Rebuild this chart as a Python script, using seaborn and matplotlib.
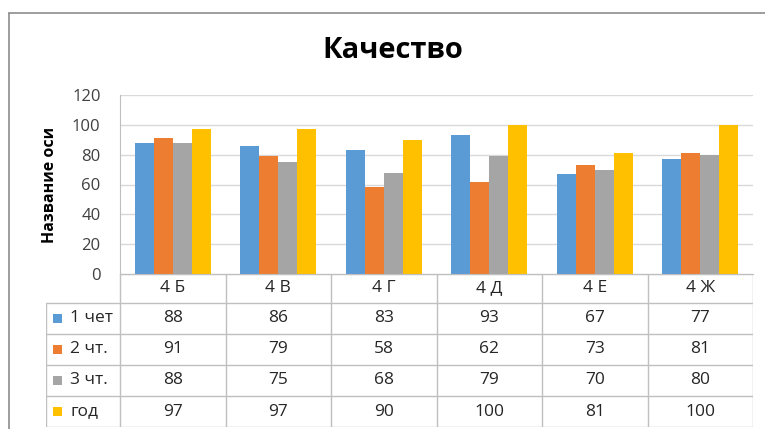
import matplotlib
matplotlib.use("Agg")
import matplotlib.pyplot as plt
import seaborn as sns
import pandas as pd

classes = ["4 Б", "4 В", "4 Г", "4 Д", "4 Е", "4 Ж"]
series = ["1 чет", "2 чт.", "3 чт.", "год"]
q1 = [88, 86, 83, 93, 67, 77]
q2 = [91, 79, 58, 62, 73, 81]
q3 = [88, 75, 68, 79, 70, 80]
year = [97, 97, 90, 100, 81, 100]
colors = ["#5B9BD5", "#ED7D31", "#A5A5A5", "#FFC000"]

values = [q1, q2, q3, year]
df = pd.DataFrame({
    "class": [c for _ in series for c in classes],
    "series": [s for s in series for _ in classes],
    "value": [v for vals in values for v in vals],
})

sns.set_style("white")
plt.rcParams["font.family"] = ["Open Sans", "DejaVu Sans"]

W, H = 765, 429
fig = plt.figure(figsize=(W / 100, H / 100), dpi=100)

def px_axes(x0, y0, x1, y1):
    return fig.add_axes([x0 / W, 1 - y1 / H, (x1 - x0) / W, (y1 - y0) / H])

# outer chart border
frame = fig.add_axes([0, 0, 1, 1], zorder=-5)
frame.set_xlim(0, W)
frame.set_ylim(H, 0)
frame.axis("off")
frame.plot([9, W], [13, 13], color="#8C8C8C", lw=1.2)
frame.plot([9, 9], [13, H], color="#8C8C8C", lw=1.2)

fig.text(393 / W, 1 - 50 / H, "Качество", ha="center", va="center",
         fontsize=21, fontweight="bold", color="black")

# bar chart
pl, pr, pt, pb = 120, 753, 95, 274
ax = px_axes(pl, pt, pr, pb)
sns.barplot(data=df, x="class", y="value", hue="series", order=classes,
            hue_order=series, palette=colors, width=0.72, saturation=1,
            linewidth=0, edgecolor="none", legend=False, ax=ax)
ax.set_ylim(0, 120)
ax.set_xlim(-0.5, len(classes) - 0.5)
ax.set_yticks(range(0, 121, 20))
ax.yaxis.grid(True, color="#D9D9D9", lw=1)
ax.set_axisbelow(True)
ax.tick_params(axis="y", length=0, pad=14, labelsize=12, colors="#404040")
ax.set_xticks([])
ax.set_xlabel("")
ax.set_ylabel("Название оси", fontsize=11.5, fontweight="bold", labelpad=10,
              color="black")
for s in ["top", "right"]:
    ax.spines[s].set_visible(False)
ax.spines["left"].set_color("#BFBFBF")
ax.spines["bottom"].set_color("#BFBFBF")

# data table
tl, tt, tb = 46, 274, 427
tab = px_axes(tl, tt, pr, tb)
tab.set_xlim(tl, pr)
tab.set_ylim(tb, tt)
tab.axis("off")
lc = "#BFBFBF"
cw = (pr - pl) / len(classes)
hdr = 303
rh = (tb - hdr) / len(series)
edges = [pl + i * cw for i in range(len(classes) + 1)]
tab.plot([pl, pr], [tt + 0.5, tt + 0.5], color=lc, lw=1)
tab.plot([tl, pr], [hdr, hdr], color=lc, lw=1)
for i in range(1, len(series) + 1):
    tab.plot([tl, pr], [hdr + i * rh, hdr + i * rh], color=lc, lw=1)
for x in edges:
    tab.plot([x, x], [tt, tb], color=lc, lw=1)
tab.plot([tl, tl], [hdr, tb], color=lc, lw=1)

fs = 12.5
for j, c in enumerate(classes):
    tab.text(edges[j] + cw / 2, (tt + hdr) / 2, c, ha="center", va="center",
             fontsize=fs, color="#262626")
for i, (s, vals) in enumerate(zip(series, values)):
    yc = hdr + (i + 0.5) * rh
    tab.add_patch(plt.Rectangle((53, yc - 4.5), 9, 9, color=colors[i], lw=0))
    tab.text(70, yc, s, ha="left", va="center", fontsize=fs, color="#262626")
    for j, v in enumerate(vals):
        tab.text(edges[j] + cw / 2, yc, str(v), ha="center", va="center",
                 fontsize=fs, color="#262626")

fig.savefig("out.png", dpi=100)
